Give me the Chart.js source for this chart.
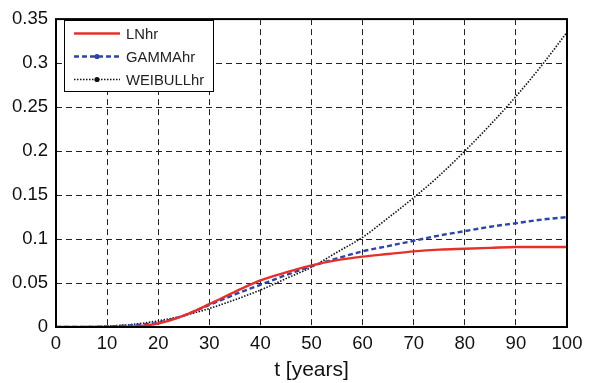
<!DOCTYPE html>
<html>
<head>
<meta charset="utf-8">
<script src="https://cdn.jsdelivr.net/npm/chart.js@4/dist/chart.umd.min.js"></script>
<style>
  html, body { margin: 0; padding: 0; background: #fff; }
  #c { display: block; }
</style>
</head>
<body>
<canvas id="c" width="590" height="383"></canvas>
<script>
// datos
const tYears = [0, 5, 10, 15, 20, 25, 30, 35, 40, 45, 50, 55, 60, 65, 70, 75, 80, 85, 90, 95, 100];
const lnHr = [0, 0, 0, 0.0005, 0.004, 0.013, 0.026, 0.040, 0.053, 0.062, 0.070, 0.076, 0.080, 0.083, 0.086, 0.088, 0.089, 0.090, 0.091, 0.091, 0.091];
const gammaHr = [0, 0, 0.0005, 0.002, 0.005, 0.013, 0.025, 0.037, 0.048, 0.059, 0.069, 0.078, 0.086, 0.092, 0.098, 0.104, 0.109, 0.114, 0.118, 0.122, 0.125];
const weibullHr = [0, 0.0003, 0.001, 0.003, 0.007, 0.013, 0.021, 0.031, 0.042, 0.055, 0.068, 0.085, 0.102, 0.124, 0.147, 0.172, 0.200, 0.230, 0.262, 0.297, 0.335];
const seriesNames = ["LNhr", "GAMMAhr", "WEIBULLhr"];
const xTitle = "t [years]";

const FONT = "'Liberation Sans', Arial, Helvetica, sans-serif";

function toPoints(ys) {
  return tYears.map((t, i) => ({ x: t, y: ys[i] }));
}

// marco negro del area del grafico
const framePlugin = {
  id: "frame",
  afterDatasetsDraw(chart) {
    const { ctx, chartArea: a } = chart;
    ctx.save();
    ctx.strokeStyle = "#000";
    ctx.lineWidth = 2;
    ctx.strokeRect(a.left, a.top, a.right - a.left, a.bottom - a.top);
    ctx.restore();
  }
};

// leyenda con caja dentro del grafico (arriba a la izquierda)
const boxLegend = {
  id: "boxLegend",
  afterDraw(chart) {
    const { ctx } = chart;
    const x0 = 64, y0 = 20, w = 149, h = 71;
    ctx.save();
    ctx.fillStyle = "#fff";
    ctx.fillRect(x0, y0, w, h);
    ctx.strokeStyle = "#000";
    ctx.lineWidth = 1;
    ctx.strokeRect(x0 + 0.5, y0 + 0.5, w, h);

    const rows = [33, 56, 79];
    chart.data.datasets.forEach((ds, i) => {
      const y = rows[i] + 0.5;
      ctx.beginPath();
      ctx.strokeStyle = ds.borderColor;
      ctx.lineWidth = ds.borderWidth;
      ctx.setLineDash(ds.borderDash || []);
      ctx.moveTo(74, y);
      ctx.lineTo(120, y);
      ctx.stroke();
      ctx.setLineDash([]);
      if (i > 0) {
        ctx.beginPath();
        ctx.fillStyle = ds.borderColor;
        ctx.arc(97, y, 2.6, 0, Math.PI * 2);
        ctx.fill();
      }
      ctx.fillStyle = "#222";
      ctx.font = "14.8px " + FONT;
      ctx.textBaseline = "middle";
      ctx.textAlign = "left";
      ctx.fillText(ds.label, 126, y + 1);
    });
    ctx.restore();
  }
};

new Chart(document.getElementById("c").getContext("2d"), {
  type: "line",
  data: {
    datasets: [
      {
        label: seriesNames[0],
        data: toPoints(lnHr),
        borderColor: "#e5302b",
        borderWidth: 2.4,
        pointRadius: 0,
        cubicInterpolationMode: "monotone"
      },
      {
        label: seriesNames[1],
        data: toPoints(gammaHr),
        borderColor: "#2f45a6",
        borderWidth: 2.4,
        borderDash: [5, 3],
        pointRadius: 0,
        cubicInterpolationMode: "monotone"
      },
      {
        label: seriesNames[2],
        data: toPoints(weibullHr),
        borderColor: "#111",
        borderWidth: 1.6,
        borderDash: [1.5, 1.5],
        pointRadius: 0,
        cubicInterpolationMode: "monotone"
      }
    ]
  },
  options: {
    responsive: false,
    animation: false,
    layout: { padding: { top: 17, right: 23, left: 0, bottom: 0 } },
    plugins: {
      legend: { display: false },
      tooltip: { enabled: false }
    },
    scales: {
      x: {
        type: "linear",
        min: 0,
        max: 100,
        afterFit(scale) { scale.height = 56; },
        ticks: {
          stepSize: 10,
          color: "#111",
          font: { family: FONT, size: 18.5 },
          padding: 6,
          maxRotation: 0
        },
        grid: { color: "#222", lineWidth: 1, drawTicks: false },
        border: { display: false, dash: [6, 4] },
        title: {
          display: true,
          text: xTitle,
          color: "#111",
          font: { family: FONT, size: 21 },
          padding: { top: 0, bottom: 0 }
        }
      },
      y: {
        min: 0,
        max: 0.35,
        afterFit(scale) { scale.width = 56; },
        ticks: {
          stepSize: 0.05,
          color: "#111",
          font: { family: FONT, size: 18.5 },
          padding: 8,
          callback: v => String(parseFloat(v.toFixed(2)))
        },
        grid: { color: "#222", lineWidth: 1, drawTicks: false },
        border: { display: false, dash: [6, 4] }
      }
    }
  },
  plugins: [framePlugin, boxLegend]
});
</script>
</body>
</html>
